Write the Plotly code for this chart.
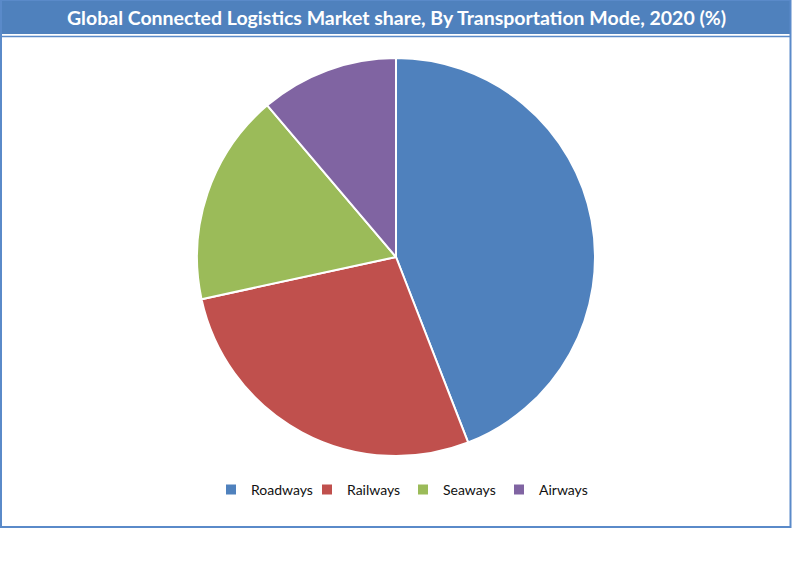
import plotly.graph_objects as go

# Market share by transportation mode, 2020 (%)
modes = ["Roadways", "Railways", "Seaways", "Airways"]
shares = [44.1, 27.5, 17.2, 11.2]
colors = ["#4F81BD", "#C0504D", "#9BBB59", "#8064A2"]

title_text = "Global Connected Logistics Market share, By Transportation Mode, 2020 (%)"

W, H = 800, 573
border = "#5A8AC9"


def px_x(v):
    return v / W


def px_y(v):
    # pixel rows counted from the top
    return 1 - v / H


fig = go.Figure()

fig.add_trace(go.Pie(
    labels=modes,
    values=shares,
    marker=dict(colors=colors, line=dict(color="white", width=2)),
    sort=False,
    direction="clockwise",
    rotation=0,
    textinfo="none",
    hoverinfo="label+percent",
    domain=dict(x=[px_x(197), px_x(595)], y=[px_y(456), px_y(58)]),
))

shapes = [
    # title band
    dict(type="rect", xref="paper", yref="paper",
         x0=0, x1=px_x(791), y0=px_y(34), y1=1,
         fillcolor="#4F81BD", line=dict(width=0), layer="below"),
    # line under the title band
    dict(type="line", xref="paper", yref="paper",
         x0=0, x1=px_x(791), y0=px_y(36.5), y1=px_y(36.5),
         line=dict(color=border, width=1.5)),
    # frame round the chart
    dict(type="rect", xref="paper", yref="paper",
         x0=px_x(1), x1=px_x(790.5), y0=px_y(527), y1=1,
         line=dict(color=border, width=2), layer="above"),
]

fig.update_layout(
    width=W,
    height=H,
    margin=dict(l=0, r=0, t=0, b=0),
    paper_bgcolor="white",
    plot_bgcolor="white",
    shapes=shapes,
    annotations=[dict(
        text="<b>" + title_text + "</b>",
        xref="paper", yref="paper",
        x=px_x(396), y=px_y(17),
        xanchor="center", yanchor="middle",
        showarrow=False,
        font=dict(family="Lato, Open Sans, sans-serif", size=19.5, color="white"),
    )],
    showlegend=True,
    legend=dict(
        orientation="h",
        x=px_x(403), y=px_y(490),
        xanchor="center", yanchor="middle",
        font=dict(family="Lato, Open Sans, sans-serif", size=14, color="#111111"),
        itemsizing="constant",
        itemwidth=30,
        entrywidth=51,
        entrywidthmode="pixels",
        bgcolor="rgba(0,0,0,0)",
    ),
)

# the page body has a default 8px margin; drop it so the figure sits at the corner
fig.write_html("out.html", config={"displayModeBar": False},
               post_script="document.body.style.margin='0';")
